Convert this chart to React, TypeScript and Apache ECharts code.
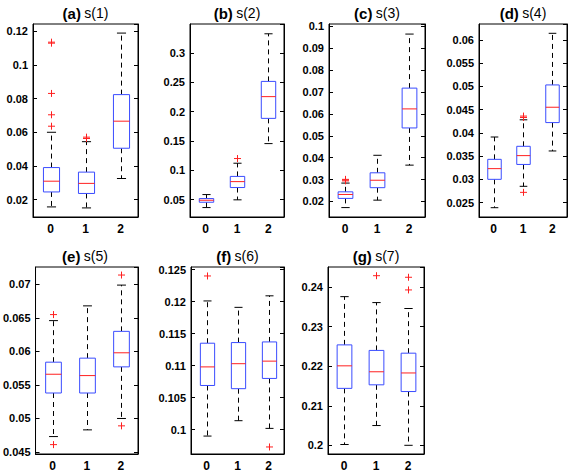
import React, { useEffect, useRef } from "react";
import * as echarts from "echarts";

const categories = ["0", "1", "2"];
const panelTags = ["(a)", "(b)", "(c)", "(d)", "(e)", "(f)", "(g)"];
const panelNames = ["s(1)", "s(2)", "s(3)", "s(4)", "s(5)", "s(6)", "s(7)"];

// box statistics per category: [low whisker, Q1, median, Q3, high whisker]
const statsA = [
  [0.0156, 0.0245, 0.0309, 0.039, 0.06],
  [0.015, 0.0236, 0.0296, 0.0363, 0.0544],
  [0.0325, 0.0505, 0.0666, 0.0824, 0.119],
];
const statsB = [
  [0.0363, 0.0454, 0.0488, 0.0517, 0.0585],
  [0.0495, 0.0705, 0.0806, 0.0895, 0.112],
  [0.1455, 0.1886, 0.2257, 0.2517, 0.333],
];
const statsC = [
  [0.0172, 0.0214, 0.0232, 0.0244, 0.0284],
  [0.0206, 0.0263, 0.0297, 0.0331, 0.0411],
  [0.0366, 0.0536, 0.0623, 0.0718, 0.0965],
];
const statsD = [
  [0.0239, 0.03, 0.0323, 0.0343, 0.0391],
  [0.0285, 0.0332, 0.0351, 0.0371, 0.0428],
  [0.0361, 0.0422, 0.0455, 0.0503, 0.0614],
];
const statsE = [
  [0.0473, 0.0538, 0.0566, 0.0584, 0.0646],
  [0.0483, 0.0538, 0.0564, 0.059, 0.0668],
  [0.05, 0.0577, 0.0598, 0.063, 0.0699],
];
const statsF = [
  [0.099, 0.1069, 0.1098, 0.1135, 0.1201],
  [0.1014, 0.1064, 0.1103, 0.1136, 0.1191],
  [0.1002, 0.108, 0.1107, 0.1137, 0.1209],
];
const statsG = [
  [0.2002, 0.2144, 0.2201, 0.2254, 0.2376],
  [0.205, 0.2153, 0.2186, 0.224, 0.2361],
  [0.2, 0.2136, 0.2183, 0.2233, 0.2346],
];

// outliers: [category index, value]
const outliersA = [[0, 0.0636], [0, 0.0704], [0, 0.0831], [0, 0.113], [0, 0.1136], [1, 0.0563], [1, 0.0571]];
const outliersB = [[1, 0.12]];
const outliersC = [[0, 0.0294], [0, 0.0298], [0, 0.0301]];
const outliersD = [[1, 0.0272], [1, 0.0433], [1, 0.0436]];
const outliersE = [[0, 0.0461], [0, 0.0655], [2, 0.0489], [2, 0.0714]];
const outliersF = [[0, 0.124], [2, 0.0973]];
const outliersG = [[1, 0.2429], [2, 0.2393], [2, 0.2425]];

// y axis: [min, max, tick interval]
const yAxisA = [0.0096, 0.1244, 0.02];
const yAxisB = [0.0202, 0.3497, 0.05];
const yAxisC = [0.0129, 0.1011, 0.01];
const yAxisD = [0.0219, 0.0634, 0.005];
const yAxisE = [0.0447, 0.0726, 0.005];
const yAxisF = [0.0962, 0.1254, 0.005];
const yAxisG = [0.1978, 0.2451, 0.01];

const allStats = [statsA, statsB, statsC, statsD, statsE, statsF, statsG];
const allOutliers = [outliersA, outliersB, outliersC, outliersD, outliersE, outliersF, outliersG];
const allY = [yAxisA, yAxisB, yAxisC, yAxisD, yAxisE, yAxisF, yAxisG];

// layout of plot frames [left, top, width, height]
const layout = [
  [33, 24, 105, 193],
  [190, 24, 94, 193],
  [329, 24, 96, 193],
  [479, 24, 88, 193],
  [32, 267, 106, 191],
  [191, 267, 93, 191],
  [328, 267, 96, 191],
];

const FONT = "'Liberation Sans', Arial, Helvetica, sans-serif";
const BLUE = "#3a4cff";
const RED = "#ff2020";

export default function App() {
  const ref = useRef<HTMLDivElement>(null);
  useEffect(() => {
    if (!ref.current) return;
    const chart = echarts.init(ref.current, null, { renderer: "svg" });
    const grid: any[] = [];
    const xAxis: any[] = [];
    const yAxis: any[] = [];
    const series: any[] = [];
    const graphic: any[] = [];

    allStats.forEach((stats, i) => {
      const [l, t, w, h] = layout[i];
      const [ymin, ymax, iv] = allY[i];
      grid.push({ left: l, top: t, width: w, height: h, show: true, borderColor: "#000", borderWidth: 1, backgroundColor: "#fff", containLabel: false });
      xAxis.push({
        gridIndex: i,
        type: "category",
        data: categories,
        axisTick: { show: false },
        axisLine: { lineStyle: { color: "#000", width: 1 } },
        axisLabel: { color: "#000", fontWeight: "bold", fontSize: 12, fontFamily: FONT, margin: 6 },
        splitLine: { show: false },
      });
      const fmt = (v: number) => {
        const r = v / iv;
        if (Math.abs(r - Math.round(r)) > 1e-6) return "";
        return String(parseFloat(v.toFixed(4)));
      };
      const base = {
        gridIndex: i,
        type: "value",
        min: ymin,
        max: ymax,
        minInterval: iv,
        maxInterval: iv,
        splitNumber: Math.round((ymax - ymin) / iv),
        splitLine: { show: false },
        axisLine: { show: true, lineStyle: { color: "#000", width: 1 } },
        axisTick: { show: true, inside: true, length: 4, lineStyle: { color: "#000" } },
      };
      yAxis.push({
        ...base,
        position: "left",
        axisLabel: { color: "#000", fontWeight: "bold", fontSize: 11, fontFamily: FONT, margin: 5, formatter: fmt, showMinLabel: false, showMaxLabel: false },
      });
      yAxis.push({ ...base, position: "right", axisLabel: { show: false } });

      series.push({
        type: "custom",
        xAxisIndex: i,
        yAxisIndex: 2 * i,
        encode: { x: 0, y: [1, 2, 3, 4, 5] },
        data: stats.map((s, k) => [k, ...s]),
        renderItem: (params: any, api: any) => {
          const x = api.value(0);
          const low = api.coord([x, api.value(1)]);
          const q1 = api.coord([x, api.value(2)]);
          const med = api.coord([x, api.value(3)]);
          const q3 = api.coord([x, api.value(4)]);
          const high = api.coord([x, api.value(5)]);
          const band = api.size([1, 0])[0];
          const hw = band * 0.23;
          const cw = band * 0.13;
          const cx = Math.round(low[0]) + 0.5;
          const dash = { stroke: "#000", lineWidth: 1, lineDash: [5, 4] };
          const solid = { stroke: "#000", lineWidth: 1 };
          return {
            type: "group",
            children: [
              { type: "line", shape: { x1: cx, y1: q3[1], x2: cx, y2: high[1] }, style: dash },
              { type: "line", shape: { x1: cx, y1: q1[1], x2: cx, y2: low[1] }, style: dash },
              { type: "line", shape: { x1: cx - cw, y1: high[1], x2: cx + cw, y2: high[1] }, style: solid },
              { type: "line", shape: { x1: cx - cw, y1: low[1], x2: cx + cw, y2: low[1] }, style: solid },
              { type: "rect", shape: { x: cx - hw, y: q3[1], width: 2 * hw, height: q1[1] - q3[1] }, style: { fill: "#fff", stroke: BLUE, lineWidth: 1 } },
              { type: "line", shape: { x1: cx - hw, y1: med[1], x2: cx + hw, y2: med[1] }, style: { stroke: RED, lineWidth: 1 } },
            ],
          };
        },
      });
      series.push({
        type: "custom",
        xAxisIndex: i,
        yAxisIndex: 2 * i,
        encode: { x: 0, y: 1 },
        data: allOutliers[i],
        renderItem: (params: any, api: any) => {
          const p = api.coord([api.value(0), api.value(1)]);
          const cx = Math.round(p[0]) + 0.5;
          const s = 3.5;
          const st = { stroke: RED, lineWidth: 1 };
          return {
            type: "group",
            children: [
              { type: "line", shape: { x1: cx - s, y1: p[1], x2: cx + s, y2: p[1] }, style: st },
              { type: "line", shape: { x1: cx, y1: p[1] - s, x2: cx, y2: p[1] + s }, style: st },
            ],
          };
        },
      });
      graphic.push({
        type: "text",
        x: l + w / 2,
        y: t - 11,
        style: {
          text: `{b|${panelTags[i]}} {n|${panelNames[i]}}`,
          align: "center",
          verticalAlign: "middle",
          fill: "#000",
          rich: {
            b: { fontWeight: "bold", fontSize: 15, fontFamily: FONT, fill: "#000" },
            n: { fontSize: 14, fontFamily: FONT, fill: "#000" },
          },
        },
      });
    });

    chart.setOption({
      animation: false,
      backgroundColor: "#fff",
      grid,
      xAxis,
      yAxis,
      series,
      graphic,
    });
    return () => chart.dispose();
  }, []);
  return <div ref={ref} style={{ position: "fixed", left: 0, top: 0, width: 568, height: 472, background: "#fff" }} />;
}
